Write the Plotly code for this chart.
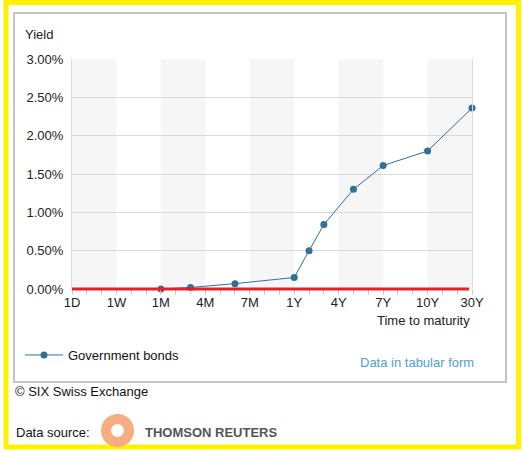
import plotly.graph_objects as go

# ── Data ──────────────────────────────────────────────────────────────────────
# maturity slots on the x axis (evenly spaced), labelled every third slot
SLOTS = ["1D", "2D", "3D", "1W", "2W", "3W", "1M", "2M", "3M", "4M", "5M", "6M",
         "7M", "8M", "9M", "1Y", "2Y", "3Y", "4Y", "5Y", "6Y", "7Y", "8Y", "9Y",
         "10Y", "15Y", "20Y", "30Y"]
TICK_LABELS = ["1D", "1W", "1M", "4M", "7M", "1Y", "4Y", "7Y", "10Y", "30Y"]

MATURITIES = ["1M", "3M", "6M", "1Y", "2Y", "3Y", "5Y", "7Y", "10Y", "30Y"]
YIELDS = [0.00, 0.02, 0.07, 0.15, 0.50, 0.84, 1.30, 1.61, 1.80, 2.36]

Y_TICKS = [0.0, 0.5, 1.0, 1.5, 2.0, 2.5, 3.0]

# ── Layout helpers (figure pixels -> paper fractions) ─────────────────────────
W, H = 523, 452
def px(x):
    return x / W
def py(y):
    return 1 - y / H

LINE_BLUE = "#32709a"
LINK_BLUE = "#4f9fcf"
BAND = "#f6f6f6"
GRID = "#d9d9d9"
FONT = "Arial, Liberation Sans, sans-serif"

xpos = [SLOTS.index(m) for m in MATURITIES]
tickpos = [SLOTS.index(t) for t in TICK_LABELS]

fig = go.Figure(go.Scatter(
    x=xpos, y=YIELDS, mode="lines+markers", name="Government bonds",
    line=dict(color=LINE_BLUE, width=1),
    marker=dict(color=LINE_BLUE, size=7),
    cliponaxis=False,
))

# alternating grey bands, one per labelled interval
shapes = []
for i in range(0, len(tickpos) - 1, 2):
    shapes.append(dict(type="rect", xref="x", yref="y domain",
                       x0=tickpos[i], x1=tickpos[i + 1], y0=0, y1=1,
                       fillcolor=BAND, line_width=0, layer="below"))

# red zero line (paper y so it is not clipped by the plot area)
shapes.append(dict(type="line", xref="x", yref="paper", x0=0, x1=len(SLOTS) - 1.2,
                   y0=py(289), y1=py(289), line=dict(color="#ee1c25", width=3),
                   layer="above"))

# outer grey box and yellow frame
shapes.append(dict(type="rect", xref="paper", yref="paper",
                   x0=px(14), x1=px(506), y0=py(13), y1=py(382),
                   line=dict(color="#c4c4c4", width=2)))
shapes.append(dict(type="rect", xref="paper", yref="paper",
                   x0=px(6), x1=px(518.5), y0=py(2.5), y1=py(447),
                   line=dict(color="#fff200", width=5)))

# Thomson Reuters ring logo
shapes.append(dict(type="circle", xref="paper", yref="paper",
                   x0=px(106), x1=px(129), y0=py(419), y1=py(442),
                   line=dict(color="#f6ad80", width=10)))

annotations = [
    dict(text="Yield", x=px(23), y=py(35), xanchor="left", yanchor="middle",
         font=dict(size=13, color="#222")),
    dict(text="Time to maturity", x=px(472), y=py(320), xanchor="right",
         yanchor="middle", font=dict(size=13, color="#222")),
    dict(text="Data in tabular form", x=px(476), y=py(362), xanchor="right",
         yanchor="middle", font=dict(size=13, color=LINK_BLUE)),
    dict(text="© SIX Swiss Exchange", x=px(13), y=py(391), xanchor="left",
         yanchor="middle", font=dict(size=13, color="#111")),
    dict(text="Data source:", x=px(14), y=py(432), xanchor="left",
         yanchor="middle", font=dict(size=13, color="#111")),
    dict(text="<b>THOMSON REUTERS</b>", x=px(143), y=py(432), xanchor="left",
         yanchor="middle", font=dict(size=13, color="#555555")),
]
for a in annotations:
    a.update(xref="paper", yref="paper", showarrow=False)

fig.update_layout(
    width=W, height=H,
    margin=dict(l=0, r=0, t=0, b=0, pad=0, autoexpand=False),
    paper_bgcolor="white", plot_bgcolor="white",
    font=dict(family=FONT, size=13, color="#222"),
    shapes=shapes, annotations=annotations,
    showlegend=True,
    legend=dict(x=px(20), y=py(355), xanchor="left", yanchor="middle",
                itemwidth=38,
                font=dict(size=13, color="#111"), bgcolor="rgba(0,0,0,0)"),
    xaxis=dict(domain=[px(72), px(472)], range=[0, len(SLOTS) - 1],
               automargin=False,
               tickvals=tickpos, ticktext=TICK_LABELS,
               ticks="outside", ticklen=5, tickcolor="#cccccc",
               minor=dict(dtick=1, ticks="outside", ticklen=5, tickcolor="#cccccc"),
               showgrid=False, zeroline=False, showline=False,
               ticklabelstandoff=-4,
               tickfont=dict(size=13, color="#222")),
    yaxis=dict(domain=[py(289), py(59)], range=[0, 3],
               automargin=False,
               tickvals=Y_TICKS, ticktext=[f"{v:.2f}%" for v in Y_TICKS],
               showgrid=True, gridcolor=GRID, gridwidth=1,
               zeroline=False, showline=True, mirror=True, linecolor="#dddddd",
               ticks="", ticklabelstandoff=5,
               tickfont=dict(size=13, color="#222")),
)

# page body has an 8px default margin; drop it so the figure sits at 0,0
fig.write_html("out.html", config={"displayModeBar": False},
               post_script="document.body.style.margin='0';")
